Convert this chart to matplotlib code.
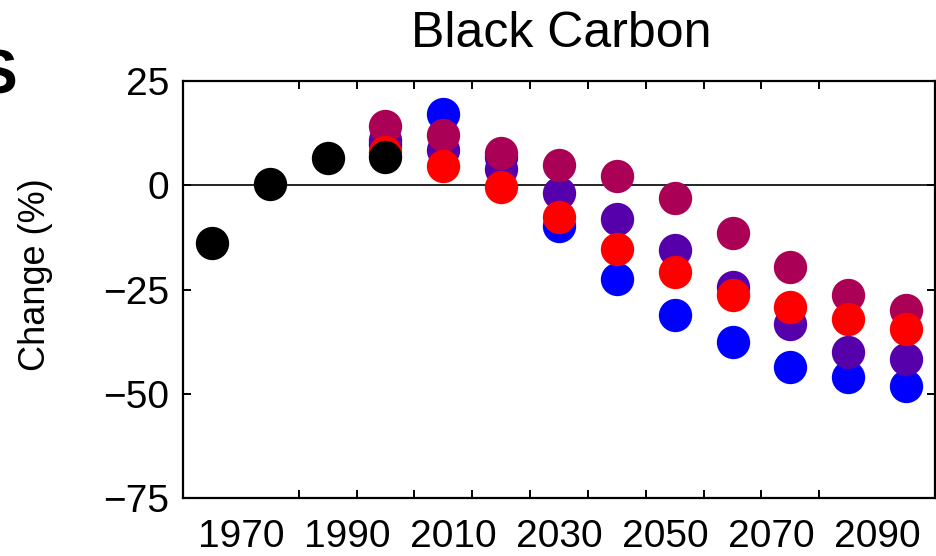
import numpy as np
import matplotlib
matplotlib.use("Agg")
import matplotlib.pyplot as plt

plt.rcParams["font.family"] = ["Liberation Sans", "DejaVu Sans"]

# decade mid-points
years = [1965, 1975, 1985, 1995, 2005, 2015, 2025, 2035, 2045, 2055, 2065, 2075, 2085]

# observed / historical (black)
hist_years = years[:4]
hist = [-13.9, 0.2, 6.5, 6.7]

# scenario projections from 1995 on
proj_years = years[3:]
blue = [10.0, 17.1, 6.7, -9.8, -22.5, -31.2, -37.7, -43.5, -45.9, -48.1]
purple = [10.8, 8.4, 3.8, -1.8, -8.1, -15.6, -24.5, -33.2, -39.9, -41.6]
maroon = [14.2, 12.0, 7.7, 4.8, 2.2, -3.1, -11.5, -19.5, -26.2, -30.0]
red = [7.9, 4.6, -0.5, -7.7, -15.2, -20.9, -26.4, -29.3, -32.0, -34.4]

decade_ticks = list(range(1970, 2090, 10))
xlabels = ["1970", "1990", "2010", "2030", "2050", "2070", "2090"]
yticks = [-75, -50, -25, 0, 25]

fig = plt.figure(figsize=(9.36, 5.56), dpi=100)
ax = fig.add_axes([183 / 936, 1 - 498 / 556, 752 / 936, 417 / 556])

ax.axhline(0, color="black", lw=1.2, zorder=1)

ms = 24
for vals, col in [(blue, "#0000FF"), (purple, "#5500AA"), (maroon, "#AA0055"), (red, "#FF0000")]:
    ax.plot(proj_years, vals, "o", color=col, ms=ms, mew=0, zorder=2)
ax.plot(hist_years, hist, "o", color="black", ms=ms, mew=0, zorder=3)

ax.set_xlim(1960, 2090)
ax.set_ylim(-75, 25)

# tick marks every decade, labels spread evenly across them (as in the original)
ax.set_xticks(np.linspace(1970, 2080, len(xlabels)))
ax.set_xticklabels(xlabels)
ax.set_xticks(decade_ticks, minor=True)
ax.tick_params(axis="x", which="major", length=0, labelsize=28, pad=15)
ax.tick_params(axis="x", which="minor", direction="in", length=6, width=1.4, top=True)

ax.set_yticks(yticks)
ax.tick_params(axis="y", direction="in", length=6, width=1.4, right=True, labelsize=28, pad=10)

for s in ax.spines.values():
    s.set_linewidth(1.6)

fig.text(561 / 936, 1 - 47 / 556, "Black Carbon", fontsize=36, ha="center", va="baseline")
fig.text(36 / 936, 1 - 275 / 556, "Change (%)", fontsize=26, rotation=90, ha="center", va="center")
fig.text(-25 / 936, 1 - 93 / 556, "S", fontsize=45, fontweight="bold", ha="left", va="baseline")

fig.savefig("out.png", dpi=100)
